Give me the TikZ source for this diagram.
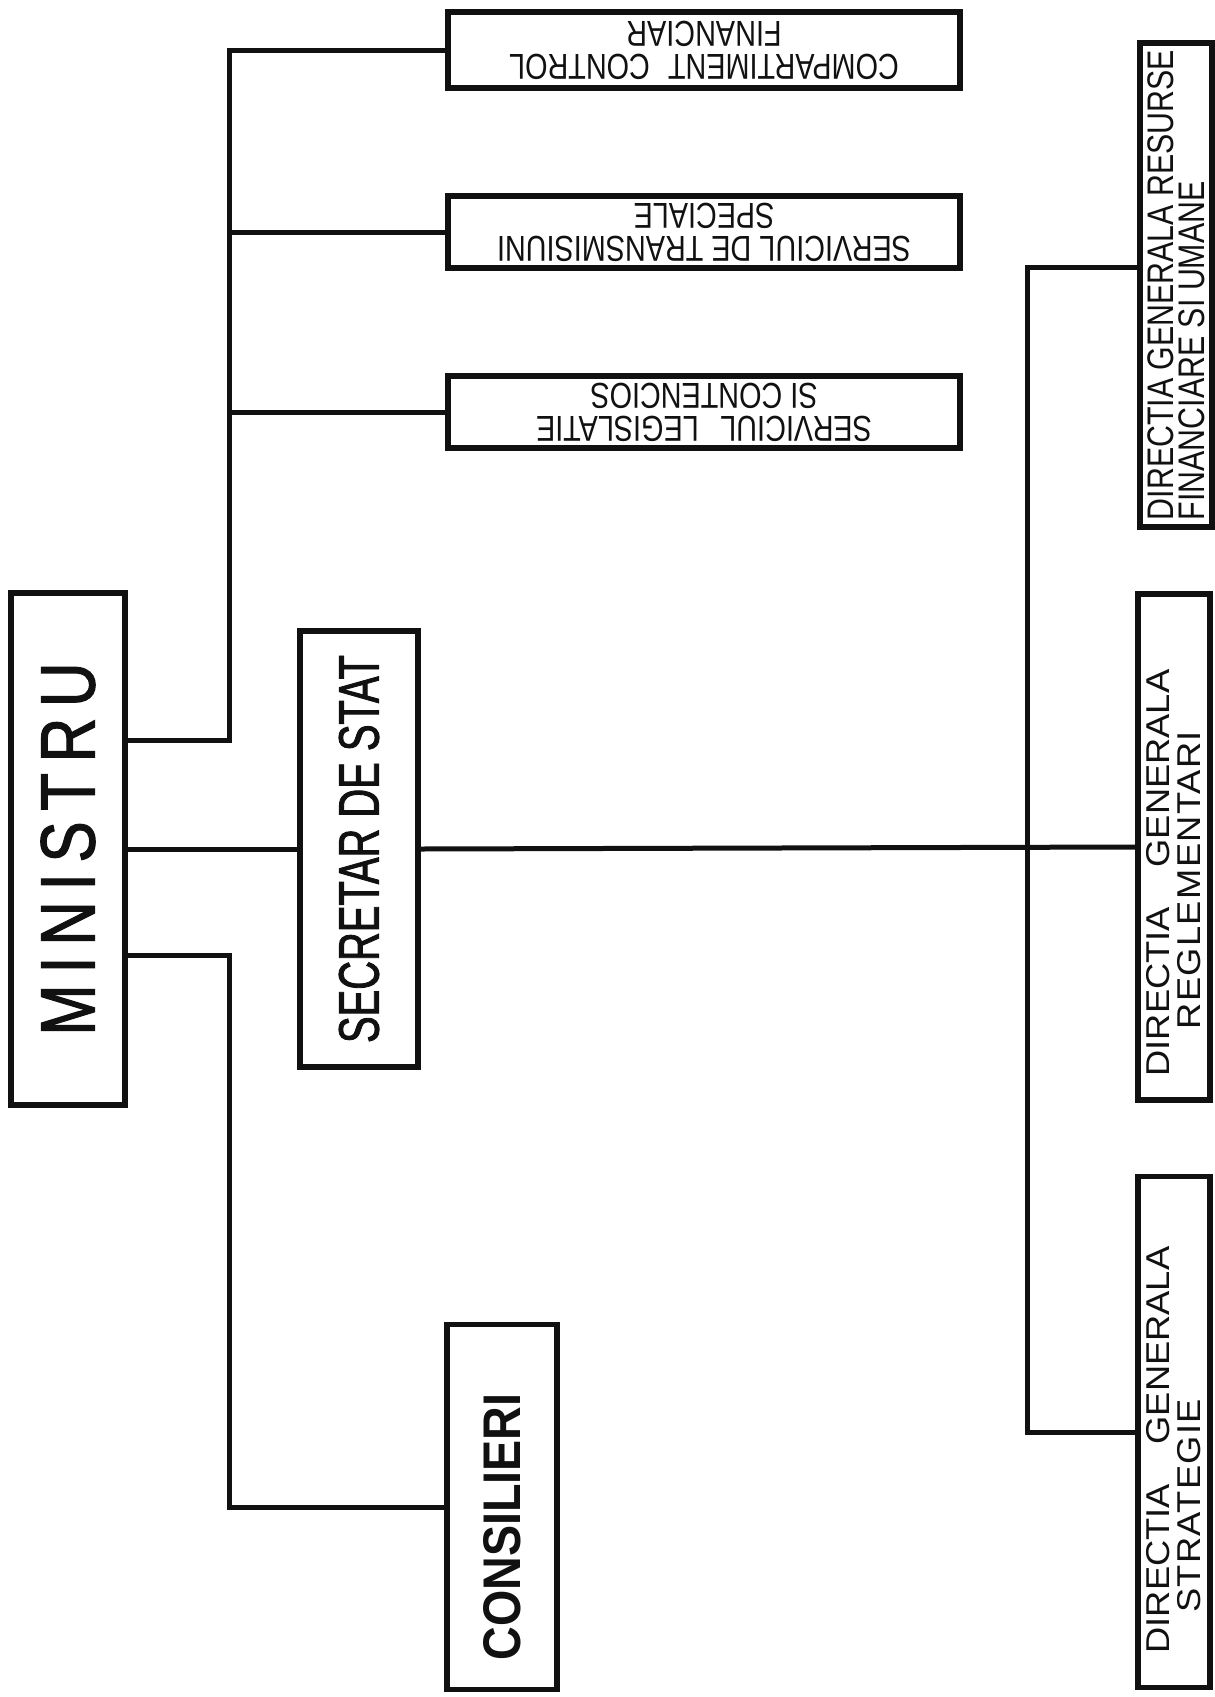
\documentclass[tikz,border=0pt]{standalone}
\usepackage{fontspec}
\usepackage{xcolor}
\usepackage{tikz}
\usetikzlibrary{positioning}
\setmainfont{Liberation Sans}
\newfontfamily\spacedsans[FakeStretch=0.80,LetterSpace=14,FakeBold=1.5]{Liberation Sans}
\newfontfamily\tightsans[FakeStretch=0.70,FakeBold=1.5]{Liberation Sans}
\newfontfamily\condsans[FakeStretch=0.80]{Liberation Sans}
\newfontfamily\dirsans[FakeStretch=0.82]{Liberation Sans}
\newfontfamily\heavysans[FakeStretch=0.88]{Liberation Sans}
\newfontfamily\widesans[FakeStretch=1.10]{Liberation Sans}
\newcommand{\wideword}[1]{{\addfontfeature{LetterSpace=4}#1}}
\definecolor{ink}{HTML}{111111}
\tikzset{
  orgbox/.style={draw=ink, line width=5.5pt, inner sep=2pt, align=center, text=ink},
  upright/.style={orgbox, rotate=90},
  flipped/.style={orgbox, rotate=180, minimum width=512pt,
                  font=\condsans\fontsize{36}{33}\selectfont},
  dirbox/.style={orgbox, rotate=90, minimum height=72pt},
  link/.style={draw=ink, line width=5pt}
}

\begin{document}
\begin{tikzpicture}[x=1pt,y=1pt]
  \useasboundingbox (0,0) rectangle (1215,-1697);

  % central column
  \node[upright, minimum width=512pt, minimum height=114pt,
        font=\spacedsans\fontsize{77}{80}\selectfont] (ministru) at (68,-849) {MINISTRU};
  \node[upright, minimum width=436pt, minimum height=118pt,
        font=\tightsans\fontsize{57}{60}\selectfont] (secretar) at (359,-849) {SECRETAR DE STAT};
  \node[upright, minimum width=365pt, minimum height=110pt,
        font=\heavysans\bfseries\fontsize{53}{56}\selectfont] (consilieri) at (502,-1507)
        {CONSILIERI\hspace*{40pt}};

  % services, printed upside down
  \node[flipped, minimum height=76pt] (control) at (704,-50)
        {COMPARTIMENT\hspace{0.5em}CONTROL\\FINANCIAR};
  \node[flipped, minimum height=72pt] (transmisiuni) at (704,-232)
        {SERVICIUL DE TRANSMISIUNI\\SPECIALE};
  \node[flipped, minimum height=72pt] (legislatie) at (704,-412)
        {SERVICIUL\hspace{0.6em}LEGISLATIE\\SI CONTENCIOS};

  % general directorates
  \node[dirbox, minimum width=484pt, align=left,
        font=\dirsans\fontsize{37}{31}\selectfont] (resurse) at (1176,-285)
        {DIRECTIA GENERALA RESURSE\\FINANCIARE SI UMANE};
  \node[dirbox, minimum width=506pt,
        font=\widesans\fontsize{33}{31}\selectfont] (reglementari) at (1174,-847)
        {DIRECTIA\hspace{1.2em}GENERALA\hspace*{52pt}\\\wideword{REGLEMENTARI}\hspace*{66pt}};
  \node[dirbox, minimum width=511pt,
        font=\widesans\fontsize{33}{31}\selectfont] (strategie) at (1174,-1432)
        {DIRECTIA\hspace{1.2em}GENERALA\hspace*{36pt}\\\wideword{STRATEGIE}\hspace*{148pt}};

  \coordinate (upperbus) at (229,-50);
  \coordinate (lowerbus) at (229,-1507);
  \coordinate (rightbus) at (1027,-1432);

  % connectors
  \draw[link] ([yshift=109pt]ministru.south) -| (upperbus) -- (control.east);
  \draw[link] (transmisiuni.east) -- (transmisiuni.east -| upperbus);
  \draw[link] (legislatie.east) -- (legislatie.east -| upperbus);
  \draw[link] ([yshift=-106pt]ministru.south) -| (lowerbus) -- (consilieri.north);
  \draw[link] (ministru.south) -- (secretar.north);
  \draw[link] (secretar.south) -- (reglementari.north);
  \draw[link] ([yshift=18pt]resurse.north) -| (rightbus) -- (strategie.north);
\end{tikzpicture}
\end{document}
